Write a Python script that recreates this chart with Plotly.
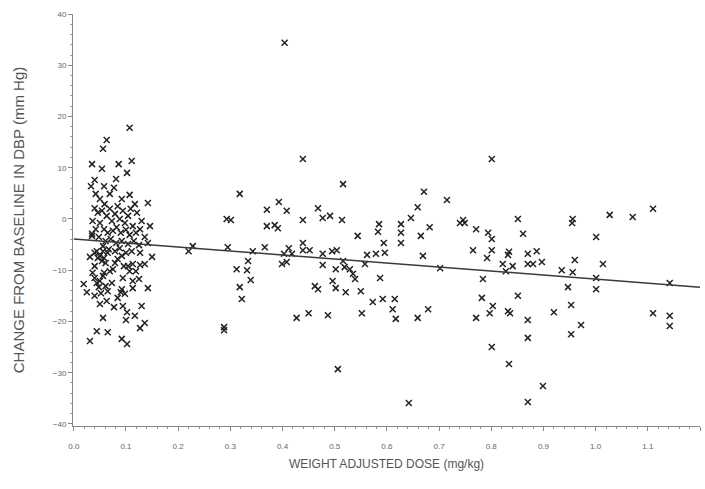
import plotly.graph_objects as go

# Weight adjusted dose (mg/kg) and change from baseline in DBP (mm Hg)
dose_low = [
    0.107, 0.063, 0.056, 0.035, 0.054, 0.086, 0.111, 0.102, 0.081, 0.040,
    0.033, 0.058, 0.077, 0.107, 0.142, 0.050, 0.059, 0.117, 0.121, 0.130,
    0.146, 0.040, 0.046, 0.054, 0.063, 0.069, 0.073, 0.079, 0.084, 0.088,
    0.094, 0.098, 0.104, 0.109, 0.113, 0.050, 0.042, 0.058, 0.065, 0.075,
    0.082, 0.090, 0.100, 0.107, 0.119, 0.127, 0.035, 0.048, 0.061, 0.071,
    0.081, 0.092, 0.104, 0.115, 0.125, 0.136, 0.056, 0.067, 0.079, 0.088,
    0.100, 0.111, 0.044, 0.127, 0.142, 0.031, 0.040, 0.056, 0.065, 0.046,
    0.054, 0.061, 0.050, 0.058, 0.092, 0.113, 0.127, 0.136, 0.075, 0.040,
    0.050, 0.056, 0.036, 0.044, 0.061, 0.048, 0.058, 0.094, 0.113, 0.125,
    0.142, 0.092, 0.113, 0.025, 0.040, 0.084, 0.098, 0.050, 0.063, 0.094,
    0.130, 0.102, 0.056, 0.117, 0.136, 0.127, 0.044, 0.065, 0.031, 0.092,
    0.102, 0.150, 0.100, 0.090, 0.036, 0.035, 0.069, 0.079, 0.104, 0.084,
    0.073, 0.040, 0.065, 0.107, 0.119, 0.096, 0.052, 0.077, 0.019, 0.069,
    0.092, 0.042,
]
dbp_low = [
    17.8, 15.4, 13.7, 10.7, 9.8, 10.7, 11.3, 9.0, 7.8, 7.6,
    6.4, 6.4, 6.1, 4.7, 3.1, 3.9, 2.9, 2.9, 1.2, -0.4,
    -1.4, 2.1, 1.2, 1.6, 0.6, 2.0, -0.4, 1.0, 2.5, 0.0,
    1.6, -0.8, 0.6, 2.0, -1.4, -0.8, -2.0, -2.0, -2.7, -2.3,
    -1.6, -2.7, -2.1, -3.1, -2.7, -2.0, -2.9, -3.5, -4.3, -3.9,
    -4.7, -4.3, -4.9, -4.3, -5.1, -3.5, -5.3, -5.9, -6.3, -5.7,
    -6.6, -6.3, -6.3, -6.6, -4.7, -7.4, -6.6, -6.3, -6.6, -7.6,
    -8.2, -8.6, -7.2, -7.6, -7.2, -8.8, -9.0, -8.8, -9.8, -11.5,
    -12.1, -11.1, -10.5, -12.5, -13.1, -13.3, -10.5, -11.5, -12.1, -11.7,
    -13.5, -13.7, -13.5, -14.3, -15.0, -15.4, -14.6, -16.6, -16.0, -17.0,
    -17.0, -18.2, -19.3, -18.9, -20.3, -21.3, -21.9, -22.1, -23.8, -23.4,
    -24.4, -7.4, -19.7, -14.3, -0.4, -3.3, -10.2, -8.6, -9.2, -7.8,
    -12.5, -9.2, -14.1, -10.2, -10.2, -9.2, -14.5, -17.2, -12.7, 4.9,
    3.9, 4.9,
]

dose_high = [
    0.404, 0.439, 0.318, 0.393, 0.370, 0.408, 0.468, 0.491, 0.477, 0.293,
    0.301, 0.439, 0.370, 0.385, 0.391, 0.439, 0.439, 0.452, 0.412, 0.418,
    0.403, 0.399, 0.408, 0.366, 0.343, 0.295, 0.228, 0.220, 0.477, 0.477,
    0.495, 0.504, 0.334, 0.312, 0.332, 0.339, 0.318, 0.322, 0.502, 0.496,
    0.502, 0.462, 0.468, 0.427, 0.450, 0.487, 0.288, 0.288, 0.506, 0.801,
    0.516, 0.671, 0.715, 0.659, 0.646, 0.746, 0.514, 0.585, 0.627, 0.682,
    0.740, 0.749, 0.771, 0.794, 0.801, 0.544, 0.583, 0.627, 0.665, 0.594,
    0.627, 0.765, 0.801, 0.834, 0.832, 0.579, 0.562, 0.596, 0.669, 0.792,
    0.822, 0.841, 0.828, 0.516, 0.519, 0.529, 0.535, 0.539, 0.702, 0.558,
    0.587, 0.784, 0.521, 0.550, 0.573, 0.592, 0.615, 0.611, 0.617, 0.659,
    0.679, 0.552, 0.782, 0.803, 0.797, 0.832, 0.836, 0.771, 0.801, 0.834,
    0.642, 1.110, 1.071, 1.027, 0.956, 0.851, 0.955, 0.861, 1.001, 0.870,
    0.887, 0.870, 0.880, 0.897, 0.935, 0.956, 0.960, 1.014, 1.001, 1.001,
    1.142, 0.947, 0.851, 0.953, 0.920, 1.110, 1.142, 1.142, 0.870, 0.972,
    0.953, 0.870, 0.899, 0.870,
]
dbp_high = [
    34.4, 11.7, 4.9, 3.3, 1.8, 1.6, 2.1, 0.6, 0.2, 0.0,
    -0.2, -0.2, -1.4, -1.2, -1.8, -4.7, -6.1, -6.1, -5.7, -6.8,
    -6.8, -8.8, -8.4, -5.5, -6.3, -5.5, -5.3, -6.3, -6.8, -9.0,
    -6.3, -6.1, -8.2, -9.8, -10.0, -11.9, -13.3, -15.6, -9.8, -12.1,
    -13.5, -13.1, -13.7, -19.3, -18.4, -18.8, -21.1, -21.7, -29.3, 11.7,
    6.8, 5.3, 3.7, 2.3, 0.2, -0.2, -0.2, -1.0, -1.0, -1.6,
    -0.8, -0.8, -2.0, -2.7, -3.9, -3.3, -2.5, -2.7, -3.3, -4.7,
    -4.7, -6.1, -6.1, -6.4, -7.0, -6.8, -7.0, -6.6, -7.2, -7.6,
    -8.8, -9.2, -10.2, -8.2, -9.4, -9.8, -10.7, -11.7, -9.6, -8.8,
    -11.5, -11.7, -14.3, -14.1, -16.2, -15.6, -15.6, -17.6, -19.5, -19.3,
    -17.6, -18.4, -15.4, -17.0, -18.4, -18.0, -18.4, -19.3, -25.0, -28.3,
    -35.9, 2.0, 0.4, 0.8, 0.0, 0.0, -0.8, -2.9, -3.5, -6.8,
    -6.3, -8.8, -8.8, -8.4, -10.0, -10.4, -8.0, -8.8, -11.5, -13.7,
    -12.5, -13.3, -15.0, -16.8, -18.2, -18.4, -18.9, -20.9, -19.7, -20.7,
    -22.5, -23.2, -32.6, -35.7,
]

# Fitted regression line end points
fit_dose = [0.0, 1.2]
fit_dbp = [-3.9, -13.3]

x_ticks = [0.0, 0.1, 0.2, 0.3, 0.4, 0.5, 0.6, 0.7, 0.8, 0.9, 1.0, 1.1, 1.2]
y_ticks = [-40, -30, -20, -10, 0, 10, 20, 30, 40]

dose = dose_low + dose_high
dbp = dbp_low + dbp_high

font_family = "Liberation Sans Narrow, Arial Narrow, Liberation Sans, sans-serif"
tick_font = dict(family=font_family, size=8, color="#666666")

fig = go.Figure()
fig.add_trace(go.Scatter(
    x=dose, y=dbp, mode="markers",
    marker=dict(symbol="x-thin", size=6, line=dict(width=1.5, color="#222222")),
    showlegend=False, hoverinfo="skip",
))
fig.add_trace(go.Scatter(
    x=fit_dose, y=fit_dbp, mode="lines",
    line=dict(color="#3a3a3a", width=1.5),
    showlegend=False, hoverinfo="skip",
))

fig.update_layout(
    width=705, height=489,
    margin=dict(l=73, r=5, t=14, b=63),
    paper_bgcolor="white", plot_bgcolor="white",
    xaxis=dict(
        range=[-0.0015, 1.2], tickvals=x_ticks,
        ticktext=[f"{v:.1f}" for v in x_ticks],
        showgrid=False, zeroline=False,
        showline=True, linecolor="#888888", linewidth=1,
        ticks="outside", ticklen=4, tickcolor="#888888",
        minor=dict(dtick=0.02, ticks="outside", ticklen=2, tickcolor="#999999"),
        tickfont=tick_font, ticklabelstandoff=8,
        title=dict(text="WEIGHT ADJUSTED DOSE (mg/kg)",
                   font=dict(family=font_family, size=12, color="#555555"), standoff=10),
    ),
    yaxis=dict(
        range=[-40.4, 40], tickvals=y_ticks,
        showgrid=False, zeroline=False,
        showline=True, linecolor="#888888", linewidth=1,
        ticks="outside", ticklen=4, tickcolor="#888888",
        minor=dict(dtick=2, ticks="outside", ticklen=2, tickcolor="#999999"),
        tickfont=tick_font,
        title=dict(text="CHANGE FROM BASELINE IN DBP (mm Hg)",
                   font=dict(family=font_family, size=15, color="#555555"), standoff=24),
    ),
)

fig.write_html("out.html")
